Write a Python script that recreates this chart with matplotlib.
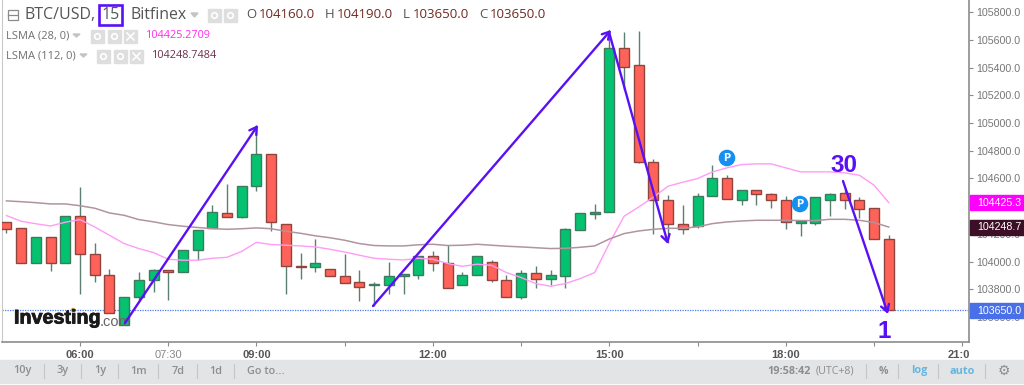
import numpy as np
import matplotlib
matplotlib.use('Agg')
import matplotlib.pyplot as plt
import matplotlib.patheffects as pe
from matplotlib.patches import Rectangle, Circle
from matplotlib.transforms import Bbox

# candle index 0 = 06:00, one candle every 15 min
idx = list(range(-5, 56))
opens = [104284, 104240, 103990, 104178, 103990, 104327, 104053, 103906, 103545, 103744,
         103870, 103942, 103925, 104087, 104240, 104347, 104322, 104544, 104775, 104269,
         103971, 103959, 103947, 103899, 103851, 103829, 103834, 103896, 103906, 104038,
         103990, 103834, 103906, 103995, 103870, 103744, 103921, 103877, 103896, 104231,
         104344, 104358, 105542, 105417, 104715, 104443, 104269, 104255, 104472, 104606,
         104443, 104520, 104486, 104443, 104279, 104282, 104443, 104495, 104443, 104383, 104160]
closes = [104238, 103990, 104178, 103990, 104327, 104053, 103906, 103632, 103744, 103870,
          103937, 103925, 104087, 104231, 104361, 104322, 104544, 104775, 104286, 103966,
          103959, 103990, 103894, 103848, 103815, 103836, 103899, 103908, 104038, 103990,
          103812, 103906, 104038, 103870, 103744, 103921, 103877, 103906, 104233, 104347,
          104361, 105542, 105401, 104715, 104443, 104269, 104233, 104474, 104606, 104448,
          104520, 104486, 104443, 104284, 104286, 104467, 104486, 104443, 104380, 104161, 103650]
highs = [104284, 104240, 104178, 104178, 104327, 104537, 104134, 103949, 103744, 103923,
         103949, 103942, 104087, 104231, 104407, 104563, 104544, 104984, 104775, 104269,
         104065, 104166, 103947, 104058, 103942, 103851, 104000, 103908, 104038, 104077,
         104118, 103925, 104038, 104015, 103901, 103942, 103971, 103942, 104245, 104347,
         104419, 105670, 105658, 105663, 104737, 104479, 104407, 104495, 104700, 104628,
         104520, 104520, 104495, 104474, 104286, 104467, 104495, 104540, 104467, 104383, 104190]
lows = [104204, 103990, 103990, 103932, 103990, 103769, 103853, 103632, 103545, 103726,
        103781, 103721, 103925, 104015, 104240, 104322, 104315, 104508, 104221, 103764,
        103877, 103925, 103894, 103848, 103716, 103677, 103764, 103764, 103877, 103932,
        103812, 103834, 103906, 103853, 103744, 103728, 103812, 103829, 103812, 104231,
        104310, 104358, 105237, 104708, 104202, 104132, 104197, 104245, 104472, 104448,
        104407, 104407, 104383, 104238, 104183, 104267, 104327, 104378, 104315, 104161, 103650]
lsma28 = [104332, 104291, 104273, 104257, 104284, 104303, 104250, 104190, 104130, 104094,
          104065, 104017, 104010, 104010, 104024, 104031, 104074, 104139, 104123, 104118,
          104113, 104106, 104089, 104069, 104046, 104024, 104017, 104012, 104024, 104017,
          103986, 103966, 103981, 103973, 103921, 103885, 103841, 103822, 103841, 103877,
          103921, 104132, 104327, 104394, 104466, 104544, 104573, 104599, 104647, 104676,
          104700, 104705, 104705, 104676, 104647, 104647, 104647, 104640, 104623, 104551, 104425]
lsma112 = [104438, 104432, 104425, 104416, 104416, 104403, 104385, 104351, 104334, 104303,
           104287, 104267, 104255, 104246, 104238, 104233, 104237, 104243, 104237, 104219,
           104204, 104186, 104172, 104154, 104130, 104116, 104113, 104113, 104121, 104125,
           104116, 104118, 104125, 104118, 104111, 104106, 104100, 104094, 104096, 104103,
           104113, 104163, 104202, 104221, 104233, 104240, 104240, 104251, 104274, 104286,
           104293, 104298, 104298, 104298, 104296, 104296, 104305, 104305, 104298, 104282, 104249]
price_ticks = [103600 + 200 * n for n in range(12)]
time_ticks = [0, 6, 12, 18, 24, 30, 36, 42, 48, 54, 60]
time_labels = ['06:00', '07:30', '09:00', '', '12:00', '', '15:00', '', '18:00', '', '21:00']
toolbar_left = ['10y', '3y', '1y', '1m', '7d', '1d', 'Go to...']

GREEN = '#05c270'
RED = '#ff6258'
PURPLE = '#5a10f5'
SANS = 'Open Sans'

fig = plt.figure(figsize=(10.24, 3.85), dpi=100)

# price pane: right edge at 969 px, bottom at 342 px
ax = fig.add_axes([1.5 / 1024, (385 - 342) / 385, (969 - 1.5) / 1024, 342 / 385])
ax.set_xlim((1.5 - 80) / 14.705, (969 - 80) / 14.705)
ax.set_ylim(103420, 105887)

for i in range(len(idx)):
    up = closes[i] >= opens[i]
    edge = '#3d7a5e' if up else '#8f453d'
    ax.vlines(idx[i], lows[i], highs[i], color='#5c8070', lw=1, zorder=2)
    ax.bar(idx[i], max(abs(closes[i] - opens[i]), 12), bottom=min(opens[i], closes[i]), width=0.68,
           color=GREEN if up else RED, edgecolor=edge, lw=1.0, zorder=3)

ax.plot(idx, lsma28, color='#ff9cf5', lw=1, zorder=4)
ax.plot(idx, lsma112, color='#b095a0', lw=1.1, zorder=4)
ax.axhline(103650, color='#4f78ee', lw=0.9, ls=(0, (1, 1)), zorder=1)

ax.spines['top'].set_visible(False)
ax.spines['left'].set_color('#c9c9c9')
ax.spines['right'].set_color('#8c8c8c')
ax.spines['bottom'].set_color('#8c8c8c')
ax.spines['right'].set_linewidth(1.2)
ax.spines['bottom'].set_linewidth(1.2)
ax.yaxis.tick_right()
ax.set_yticks(price_ticks)
ax.set_yticklabels(['%.1f' % p for p in price_ticks], fontsize=7.7, color='#777777', family='Liberation Sans')
ax.tick_params(axis='y', length=3, width=0.8, color='#8c8c8c', pad=2)
ax.set_xticks(time_ticks)
ax.set_xticklabels(time_labels, fontsize=8, family='Liberation Sans', fontweight='bold', color='#555555')
ax.tick_params(axis='x', length=3, width=0.8, color='#8c8c8c', pad=2.5)
for lab in ax.get_xticklabels():
    lab.set_clip_on(True)
    lab.set_clip_box(Bbox([[0, 0], [969, 385]]))
    if lab.get_text() == '07:30':
        lab.set_fontweight('normal')
        lab.set_color('#888888')

# overlay in image pixels for the toolbar, legend and hand drawn arrows
ov = fig.add_axes([0, 0, 1, 1], facecolor='none')
ov.set_xlim(0, 1024)
ov.set_ylim(385, 0)
ov.axis('off')

def label(x, y, s, size=8, color='#777777', ha='left', weight='normal', family=SANS):
    return ov.text(x, y, s, fontsize=size, color=color, ha=ha, va='center', fontweight=weight, family=family)

def arrow(x0, y0, x1, y1):
    ov.annotate('', xy=(x1, y1), xytext=(x0, y0),
                arrowprops=dict(arrowstyle='->,head_length=0.5,head_width=0.3', color=PURPLE, lw=1.7,
                                shrinkA=0, shrinkB=0), zorder=8)

def icon(x, y, w=13, h=13, cross=False):
    ov.add_patch(Rectangle((x, y), w, h, color='#dedede', zorder=5))
    if cross:
        ov.plot([x + 3, x + w - 3], [y + 3, y + h - 3], color='white', lw=1.1, zorder=6)
        ov.plot([x + 3, x + w - 3], [y + h - 3, y + 3], color='white', lw=1.1, zorder=6)
    else:
        ov.add_patch(Circle((x + w / 2, y + h / 2), 2.8, fill=False, ec='white', lw=1.2, zorder=6))

# header
ov.add_patch(Rectangle((7.5, 9.5), 10, 10, fill=False, ec='#8a8a8a', lw=0.9))
ov.plot([8, 17], [14.5, 14.5], color='#8a8a8a', lw=0.9)
label(24, 15, 'BTC/USD,', size=11.5, color='#555555')
label(102, 15, '15', size=11.4, color='#555555')
ov.add_patch(Rectangle((99, 5), 23, 20, fill=False, ec=PURPLE, lw=1.9))
label(130, 15, 'Bitfinex', size=11.4, color='#555555')
ov.fill([191, 198, 194.5], [13, 13, 17], color='#c4c4c4')
icon(208, 9)
icon(224, 9)
x_pos = [246, 325, 403, 479]
x_val = [259, 337, 413, 490]
for x, xv, name, val in zip(x_pos, x_val, ['O', 'H', 'L', 'C'], ['104160.0', '104190.0', '103650.0', '103650.0']):
    label(x, 15, name, size=9.5, color='#555555')
    label(xv, 15, val, size=9.5, color='#6e2a22')

label(6, 36, 'LSMA (28, 0)', size=8, color='#707070')
ov.fill([73, 80, 76.5], [34, 34, 37], color='#c4c4c4')
icon(91, 30)
icon(108, 30)
icon(124, 30, cross=True)
label(146, 36, '104425.2709', size=7.8, color='#ff2bf0')
label(6, 56, 'LSMA (112, 0)', size=8, color='#707070')
ov.fill([80, 87, 83.5], [54, 54, 57], color='#c4c4c4')
icon(97, 50)
icon(114, 50)
icon(130, 50, cross=True)
label(152, 56, '104248.7484', size=7.8, color='#6b2f4a')

# price tags on the axis
for y0, col, txt in [(195, '#ff00ff', '104425.3'), (220, '#3d0f26', '104248.7'), (303, '#4a70e8', '103650.0')]:
    ov.add_patch(Rectangle((970, y0), 54, 15, color=col, zorder=6))
    ov.text(977, y0 + 7.5, txt, fontsize=7.7, color='white', va='center', family='Liberation Sans', zorder=7)

# arrows and notes
arrow(125, 323, 258, 125)
arrow(373, 306, 611, 30)
arrow(609, 32, 668, 244)
arrow(843, 181, 888, 314)
label(844, 166, '30', size=17.5, color=PURPLE, ha='center', weight='bold', family='Liberation Sans')
label(884, 331, '1', size=17.5, color=PURPLE, ha='center', weight='bold', family='Liberation Sans')

# pivot badges
for x, y in [(727, 158), (800, 204)]:
    ov.add_patch(Circle((x, y), 7.6, color='#1590f0', zorder=7))
    ov.text(x, y, 'P', fontsize=7, color='white', ha='center', va='center', fontweight='bold', zorder=8)

# logo
logo = label(14, 318, 'Investing', size=14.2, color='#1a1a1a', weight='bold', family='Liberation Sans')
logo.set_path_effects([pe.withStroke(linewidth=0.6, foreground='#1a1a1a')])
label(100, 322, '.com', size=10.5, color='#666666', family='Liberation Sans')
ov.add_patch(Circle((73, 310), 1.5, color='#f5a623'))

# bottom toolbar
ov.add_patch(Rectangle((0, 360), 1024, 23, color='#e3e4e6', zorder=1))
for x, s in zip([22, 63, 100, 139, 178, 216, 266], toolbar_left):
    label(x, 371, s, size=7.8, color='#8d8d8d', ha='center', weight='semibold')
for x in [44, 81, 118, 158, 197, 234, 866, 898, 938, 985]:
    ov.plot([x, x], [364, 378], color='#c6c6c6', lw=0.8, zorder=2)
label(767, 371, '19:58:42', size=7.8, color='#8d8d8d', weight='bold')
label(816, 371, '(UTC+8)', size=7.6, color='#8d8d8d')
label(883, 371, '%', size=7.6, color='#8d8d8d', ha='center', weight='bold')
label(919, 371, 'log', size=7.8, color='#62b7e0', ha='center', weight='bold')
label(962, 371, 'auto', size=7.8, color='#62b7e0', ha='center', weight='bold')
ov.text(1004, 371, '\u2699', fontsize=10, color='#8d8d8d', ha='center', va='center', family='DejaVu Sans')

fig.savefig('out.png', dpi=100)
